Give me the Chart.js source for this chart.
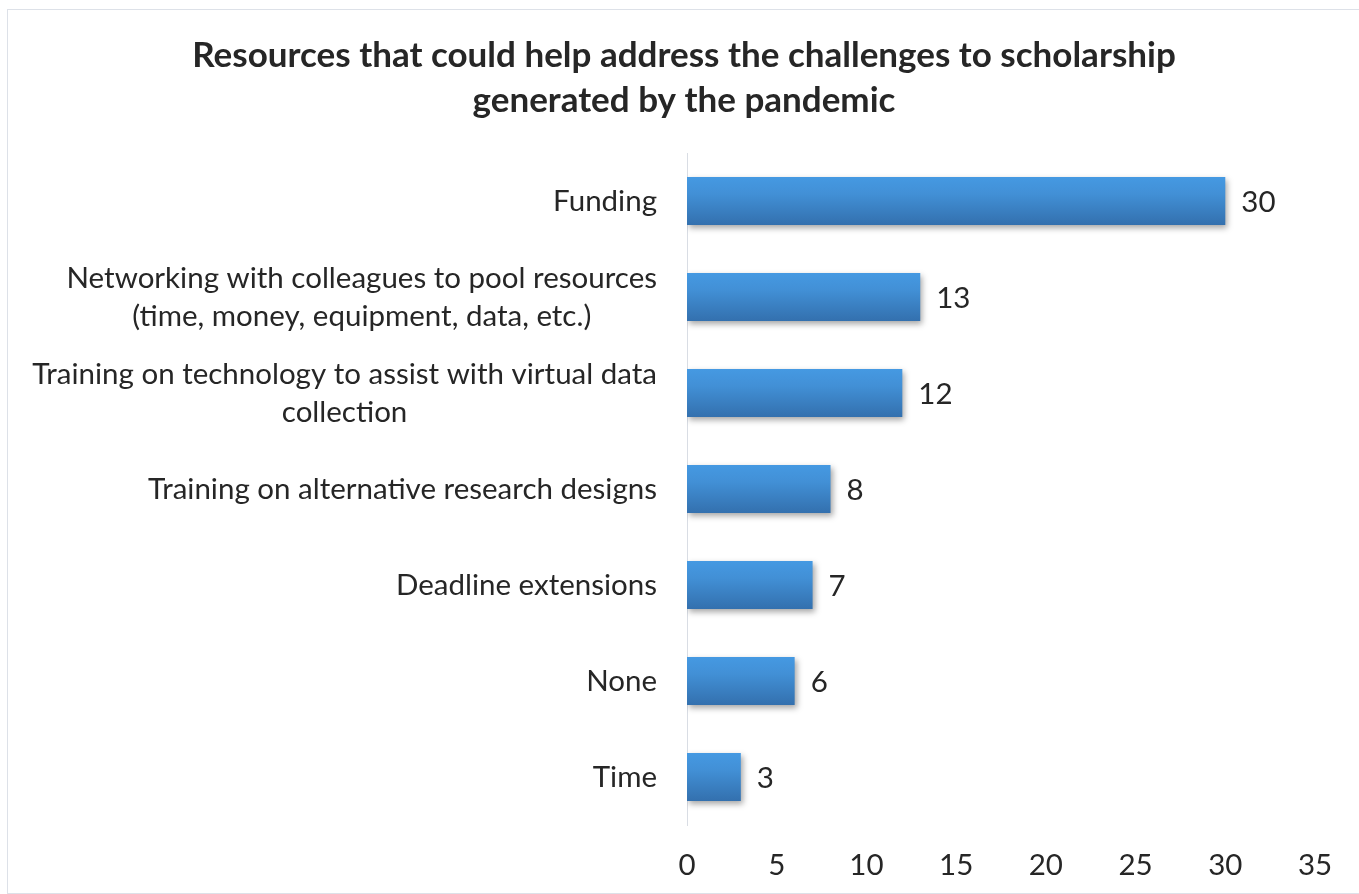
<!DOCTYPE html>
<html>
<head>
<meta charset="utf-8">
<title>Resources chart</title>
<script src="https://cdn.jsdelivr.net/npm/chart.js@4.4.1/dist/chart.umd.min.js"></script>
<style>
    html, body { margin: 0; padding: 0; background: #ffffff; }
    #wrap { position: relative; width: 1359px; height: 894px; }
    #frame {
        position: absolute; left: 7px; top: 9px; width: 1400px; height: 883px;
        border: 1px solid #dde1e8; pointer-events: none;
    }
</style>
</head>
<body>
<div id="wrap">
    <canvas id="resourceChart" width="1359" height="894"></canvas>
    <div id="frame"></div>
</div>
<script>
const titleLines = [
    'Resources that could help address the challenges to scholarship',
    'generated by the pandemic'
];

const categories = [
    ['Funding'],
    ['Networking with colleagues to pool resources', '(time, money, equipment, data, etc.)'],
    ['Training on technology to assist with virtual data', 'collection'],
    ['Training on alternative research designs'],
    ['Deadline extensions'],
    ['None'],
    ['Time']
];

const responses = [30, 13, 12, 8, 7, 6, 3];

const xTicks = [0, 5, 10, 15, 20, 25, 30, 35];

const FONT = 'Lato, "Open Sans", sans-serif';
const LABEL_SIZE = 29.5;
const TEXT_COLOR = '#262626';
const BAR_TOP = '#4599e2';
const BAR_BOTTOM = '#3370ae';

// per-bar vertical gradient, built from the y scale
function barGradient(context) {
    const chart = context.chart;
    const yScale = chart.scales.y;
    if (!chart.chartArea || !yScale) return BAR_TOP;
    const step = Math.abs(yScale.getPixelForValue(1) - yScale.getPixelForValue(0)) || 96;
    const yc = yScale.getPixelForValue(context.dataIndex);
    const half = step * 0.25;
    const g = chart.ctx.createLinearGradient(0, yc - half, 0, yc + half);
    g.addColorStop(0, BAR_TOP);
    g.addColorStop(0.35, '#4290d6');
    g.addColorStop(1, BAR_BOTTOM);
    return g;
}

// soft drop shadow under the bars
const barShadow = {
    id: 'barShadow',
    beforeDatasetsDraw(chart) {
        const ctx = chart.ctx;
        ctx.save();
        ctx.shadowColor = 'rgba(0, 0, 0, 0.35)';
        ctx.shadowBlur = 6;
        ctx.shadowOffsetX = 2;
        ctx.shadowOffsetY = 3;
    },
    afterDatasetsDraw(chart) {
        chart.ctx.restore();
    }
};

// value labels at the end of every bar
const valueLabels = {
    id: 'valueLabels',
    afterDatasetsDraw(chart) {
        const ctx = chart.ctx;
        const meta = chart.getDatasetMeta(0);
        ctx.save();
        ctx.font = LABEL_SIZE + 'px ' + FONT;
        ctx.fillStyle = TEXT_COLOR;
        ctx.textAlign = 'left';
        ctx.textBaseline = 'middle';
        meta.data.forEach((bar, i) => {
            ctx.fillText(String(responses[i]), bar.x + 16, bar.y + 1);
        });
        ctx.restore();
    }
};

// category labels: each block right-aligned, its lines centred on each other
const categoryLabels = {
    id: 'categoryLabels',
    afterDraw(chart) {
        const ctx = chart.ctx;
        const yScale = chart.scales.y;
        const rightEdge = chart.chartArea.left - 30;
        const lineGap = 38;
        ctx.save();
        ctx.font = LABEL_SIZE + 'px ' + FONT;
        ctx.fillStyle = TEXT_COLOR;
        ctx.textAlign = 'center';
        ctx.textBaseline = 'middle';
        categories.forEach((lines, i) => {
            const yc = yScale.getPixelForTick(i);
            const maxW = Math.max(...lines.map(l => ctx.measureText(l).width));
            const cx = rightEdge - maxW / 2;
            lines.forEach((line, j) => {
                const off = (j - (lines.length - 1) / 2) * lineGap;
                ctx.fillText(line, cx, yc + off);
            });
        });
        ctx.restore();
    }
};

const ctx = document.getElementById('resourceChart').getContext('2d');

new Chart(ctx, {
    type: 'bar',
    data: {
        labels: categories.map(c => c.join(' ')),
        datasets: [{
            data: responses,
            backgroundColor: barGradient,
            borderWidth: 0,
            barPercentage: 0.5,
            categoryPercentage: 1
        }]
    },
    options: {
        indexAxis: 'y',
        responsive: false,
        animation: false,
        layout: {
            padding: { left: 53, right: 44, top: 0, bottom: 11 }
        },
        plugins: {
            legend: { display: false },
            tooltip: { enabled: false },
            title: {
                display: true,
                text: titleLines,
                color: TEXT_COLOR,
                font: { family: FONT, size: 35, weight: 'bold', lineHeight: 1.286 },
                padding: { top: 33, bottom: 30 }
            }
        },
        scales: {
            x: {
                min: 0,
                max: 35,
                afterBuildTicks(scale) {
                    scale.ticks = xTicks.map(v => ({ value: v }));
                },
                afterFit(scale) {
                    scale.height = 58;
                },
                grid: { display: false, drawTicks: false },
                border: { display: false },
                ticks: {
                    color: TEXT_COLOR,
                    font: { family: FONT, size: LABEL_SIZE },
                    padding: 23,
                    maxRotation: 0
                }
            },
            y: {
                afterFit(scale) {
                    scale.width = 634;
                },
                grid: { display: false, drawTicks: false },
                border: { display: true, color: '#d9dde4', width: 1 },
                ticks: {
                    color: 'transparent',
                    font: { family: FONT, size: LABEL_SIZE }
                }
            }
        }
    },
    plugins: [barShadow, valueLabels, categoryLabels]
});
</script>
</body>
</html>
